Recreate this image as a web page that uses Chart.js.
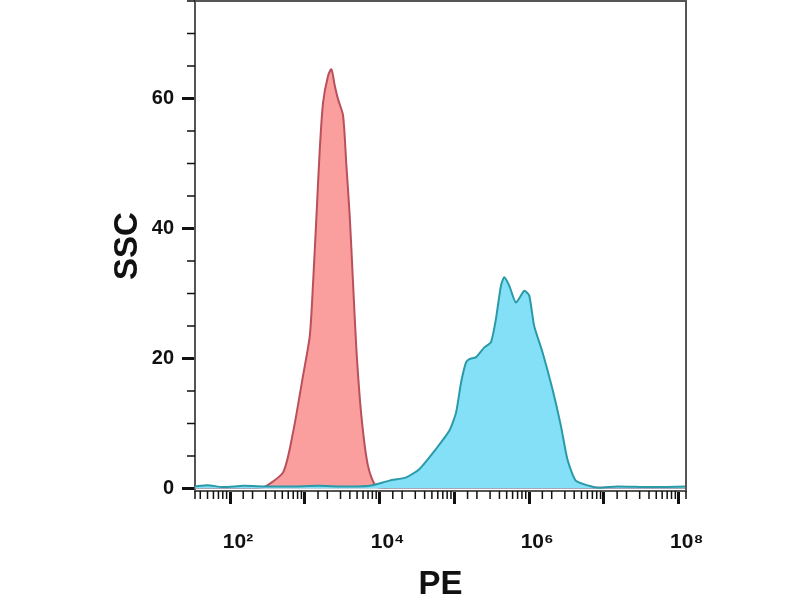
<!DOCTYPE html>
<html>
<head>
<meta charset="utf-8">
<script src="https://cdn.jsdelivr.net/npm/chart.js@4/dist/chart.umd.min.js"></script>
<style>
  html, body { margin: 0; padding: 0; background: #fff; }
  #wrap { width: 800px; height: 600px; }
</style>
</head>
<body>
<div id="wrap"><canvas id="chart" width="800" height="600"></canvas></div>
<script>
// PE intensity (x) and SSC counts (y)
const redX = [34, 60, 120, 250, 308, 514, 698, 948, 1166, 1291, 1432, 1585, 1754, 2046, 2270, 2512, 2780, 3243, 3594, 3981, 4406, 4887, 5702, 6982, 9034, 15000, 60000, 400000, 3000000, 20000000, 125000000];
const redY = [0.1, 0.1, 0.1, 0.15, 0.4, 2.5, 8.7, 17.4, 23.5, 31.8, 42, 52.2, 59.4, 63.5, 64.5, 62, 59.9, 57.4, 49.7, 42, 31.8, 21.5, 11.2, 3.5, 0.3, 0.1, 0.1, 0.1, 0.1, 0.1, 0.1];

const blueX = [34, 50, 80, 150, 300, 700, 1500, 3000, 5000, 7356, 13594, 22700, 34150, 57000, 85770, 105400, 122800, 143200, 158500, 194600, 251200, 308300, 359400, 419500, 464200, 541200, 664800, 857700, 1000000, 1166000, 1504000, 2046000, 2648000, 3243000, 4195000, 6310000, 8577000, 15000000, 40000000, 125000000];
const blueY = [0.3, 0.5, 0.2, 0.4, 0.3, 0.3, 0.4, 0.3, 0.3, 0.4, 1.2, 1.7, 3.0, 6.1, 8.9, 11.7, 16.3, 19.4, 19.9, 20.2, 21.7, 22.5, 26.1, 31.2, 32.5, 31.2, 28.6, 30.4, 29.7, 25.0, 21.0, 15.3, 9.7, 4.5, 1.2, 0.4, 0.1, 0.3, 0.2, 0.3];

// decade labels shown on the x axis
const xTickLabels = { 2: '10²', 4: '10⁴', 6: '10⁶', 8: '10⁸' };
const yTickLabels = [0, 20, 40, 60];

const toPoints = (xs, ys) => xs.map((x, i) => ({ x: x, y: ys[i] }));

function isDecade(v) {
  const l = Math.log10(v);
  return Math.abs(l - Math.round(l)) < 1e-9;
}
const isYMajor = v => v % 20 === 0;

// top and right frame lines, plus the short minor tick marks
const frame = {
  id: 'frame',
  afterDraw(chart) {
    const { ctx, chartArea: a } = chart;
    const xs = chart.scales.x, ys = chart.scales.y;
    ctx.save();
    ctx.strokeStyle = '#555';
    ctx.lineWidth = 2;
    ctx.beginPath();
    ctx.moveTo(a.left, a.top);
    ctx.lineTo(a.right, a.top);
    ctx.lineTo(a.right, a.bottom);
    ctx.stroke();

    ctx.strokeStyle = '#111';
    ctx.lineWidth = 1.5;
    ctx.beginPath();
    xs.ticks.forEach(t => {
      if (isDecade(t.value)) return;
      const px = xs.getPixelForValue(t.value);
      ctx.moveTo(px, a.bottom);
      ctx.lineTo(px, a.bottom + 8);
    });
    ys.ticks.forEach(t => {
      if (isYMajor(t.value)) return;
      const py = ys.getPixelForValue(t.value);
      ctx.moveTo(a.left - 8, py);
      ctx.lineTo(a.left, py);
    });
    ctx.stroke();
    ctx.restore();
  }
};

new Chart(document.getElementById('chart'), {
  type: 'line',
  data: {
    datasets: [
      {
        label: 'Stained',
        data: toPoints(blueX, blueY),
        borderColor: '#2a9aa8',
        backgroundColor: '#84e0f7',
        borderWidth: 2,
        fill: 'origin',
        tension: 0.2,
        pointRadius: 0
      },
      {
        label: 'Control',
        data: toPoints(redX, redY),
        borderColor: '#b9505c',
        backgroundColor: 'rgba(250,150,150,0.92)',
        borderWidth: 2,
        fill: 'origin',
        tension: 0.25,
        pointRadius: 0
      }
    ]
  },
  options: {
    responsive: false,
    animation: false,
    layout: { padding: { left: 108, right: 114, top: 1, bottom: 0 } },
    plugins: {
      legend: { display: false },
      tooltip: { enabled: false }
    },
    scales: {
      x: {
        type: 'logarithmic',
        min: 34,
        max: 125000000,
        afterFit: s => {
          s.height = 109;
          s.paddingLeft = 0;
          s.paddingRight = 0;
        },
        border: { color: '#555', width: 2 },
        grid: {
          drawOnChartArea: false,
          tickLength: 13,
          tickColor: ctx => (ctx.tick && isDecade(ctx.tick.value) ? '#111' : 'rgba(0,0,0,0)'),
          tickWidth: 3
        },
        ticks: {
          autoSkip: false,
          maxRotation: 0,
          padding: 26,
          labelOffset: 8,
          color: '#111',
          font: { family: 'Liberation Sans', weight: 'bold', size: 21 },
          callback: v => {
            if (!isDecade(v)) return '';
            return xTickLabels[Math.round(Math.log10(v))] || '';
          }
        },
        title: {
          display: true,
          text: 'PE',
          color: '#111',
          padding: { top: 0, bottom: -5 },
          font: { family: 'Liberation Sans', weight: 'bold', size: 33 }
        }
      },
      y: {
        min: -0.4,
        max: 75,
        afterFit: s => {
          s.width = 87;
          s.paddingTop = 0;
          s.paddingBottom = 0;
        },
        border: { color: '#555', width: 2 },
        grid: {
          drawOnChartArea: false,
          tickLength: 13,
          tickColor: ctx => (ctx.tick && isYMajor(ctx.tick.value) ? '#111' : 'rgba(0,0,0,0)'),
          tickWidth: 3
        },
        ticks: {
          stepSize: 5,
          includeBounds: false,
          padding: 8,
          color: '#111',
          font: { family: 'Liberation Sans', weight: 'bold', size: 20 },
          callback: v => (yTickLabels.includes(v) ? String(v) : '')
        },
        title: {
          display: true,
          text: 'SSC',
          color: '#111',
          padding: { top: 0, bottom: 0 },
          font: { family: 'Liberation Sans', weight: 'bold', size: 33 }
        }
      }
    }
  },
  plugins: [frame]
});
</script>
</body>
</html>
